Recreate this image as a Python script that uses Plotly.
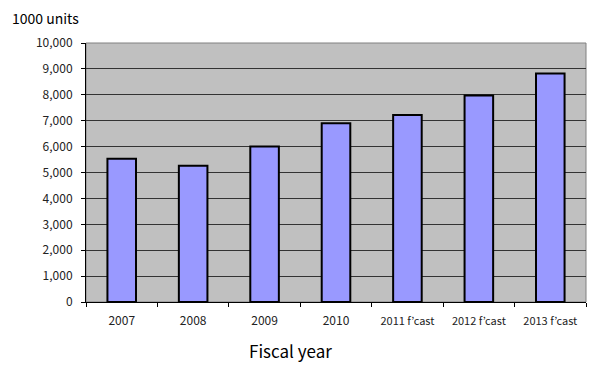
import plotly.graph_objects as go

categories = ["2007", "2008", "2009", "2010", "2011 f’cast", "2012 f’cast", "2013 f’cast"]
values = [5530, 5260, 6000, 6900, 7220, 7970, 8820]
y_ticks = [0, 1000, 2000, 3000, 4000, 5000, 6000, 7000, 8000, 9000, 10000]
y_tick_labels = [f"{v:,}" for v in y_ticks]
tick_text = [c if "f’cast" not in c else f"<span style='font-size:11px'>{c}</span>" for c in categories]

FONT = "Noto Sans CJK JP"

fig = go.Figure(go.Bar(
    x=categories, y=values,
    marker=dict(color="#9999FF", line=dict(color="#000000", width=2)),
    width=0.4,
))

W, H = 600, 373
ML, MR, MT, MB = 86, 14, 43, 71

fig.update_layout(
    width=W, height=H,
    margin=dict(l=ML, r=MR, t=MT, b=MB, autoexpand=False),
    paper_bgcolor="white", plot_bgcolor="#C0C0C0",
    showlegend=False,
    font=dict(family=FONT, color="#222222"),
    xaxis=dict(
        tickmode="array", tickvals=categories, ticktext=tick_text,
        tickfont=dict(size=12, family=FONT, color="#222222"),
        showline=True, linecolor="#000000", linewidth=1,
        ticks="outside", tickson="boundaries", ticklen=4, tickcolor="#000000",
        ticklabelstandoff=8,
        showgrid=False, range=[-0.5, 6.5],
    ),
    yaxis=dict(
        range=[0, 10000], tickvals=y_ticks, ticktext=y_tick_labels,
        tickfont=dict(size=12, family=FONT, color="#222222"),
        showgrid=True, gridcolor="#333333", gridwidth=1,
        showline=True, linecolor="#000000", linewidth=1,
        ticks="outside", ticklen=4, tickcolor="#000000",
        ticklabelstandoff=6,
        zeroline=False,
    ),
    shapes=[dict(type="rect", xref="paper", yref="paper", x0=0, x1=1, y0=0, y1=1,
                 line=dict(color="#808080", width=1), layer="below")],
)

pw = W - ML - MR
ph = H - MT - MB
fig.add_annotation(text="1000 units", xref="paper", yref="paper",
                   x=(10 - ML) / pw, y=(H - MB - 18) / ph,
                   xanchor="left", yanchor="middle", showarrow=False,
                   font=dict(size=14, family=FONT, color="#000000"))
fig.add_annotation(text="Fiscal year", xref="paper", yref="paper",
                   x=(290 - ML) / pw, y=(H - MB - 350) / ph,
                   xanchor="center", yanchor="middle", showarrow=False,
                   font=dict(size=17, family=FONT, color="#000000"))

fig.write_html("out.html",
               config={"displayModeBar": False},
               post_script="document.body.style.margin='0';document.body.style.overflow='hidden';")
